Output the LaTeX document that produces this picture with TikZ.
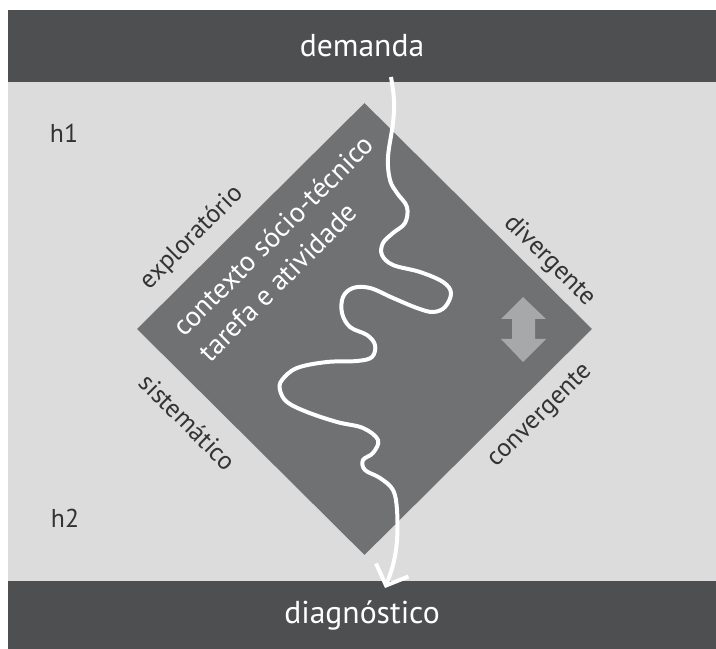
\documentclass[tikz,border=0pt]{standalone}
\usepackage{fontspec}
\setmainfont{PT Sans}
\usepackage{tikz}
\usetikzlibrary{shapes.geometric,arrows.meta,positioning}
\definecolor{bardark}{RGB}{78,79,81}
\definecolor{bglight}{RGB}{220,220,220}
\definecolor{ctxgrey}{RGB}{112,113,115}
\definecolor{arrowgrey}{RGB}{167,168,170}
\definecolor{labeltext}{RGB}{51,51,51}

\begin{document}
\begin{tikzpicture}[
    x=0.03cm, y=-0.03cm,
    bar/.style={fill=bardark, text=white, inner sep=0, minimum width=21.24cm, font=\fontsize{27}{32}\selectfont},
    side/.style={text=labeltext, inner sep=0, font=\fontsize{22}{26}\selectfont},
    inner/.style={text=white, align=left, inner sep=0, rotate=45, font=\fontsize{24}{31}\selectfont},
    wave/.style={draw=white, line width=3.4pt, -{Straight Barb[length=0.5cm, width=1.05cm]}}
]
    \useasboundingbox (0,0) rectangle (716,649);

    % Background
    \fill[bglight] (8,10) rectangle (716,649);

    % Start and end bars
    \node[bar, minimum height=2.16cm] (demanda) at (362,46) {demanda};
    \node[bar, minimum height=2.04cm] (diagnostico) at (362,615) {diagnóstico};

    % Context diamond
    \node[diamond, fill=ctxgrey, inner sep=0, minimum width=13.65cm, minimum height=13.56cm] (ctx) at (364.5,329) {};
    \node[inner] (ctxtext) at (286,248) {contexto sócio-técnico\\tarefa e atividade};

    % Levels
    \node[side] (h1) at (64,133) {h1};
    \node[side] (h2) at (65,518) {h2};

    % Edge labels
    \node[side, rotate=45] (explor) at (192,238) {exploratório};
    \node[side, rotate=-45] (diverg) at (550,261) {divergente};
    \node[side, rotate=-45] (sistem) at (188,422) {sistemático};
    \node[side, rotate=45] (converg) at (541,416) {convergente};

    % Up/down arrow
    \fill[arrowgrey] (523,297) -- (546,319) -- (535,319) -- (535,339) -- (546,339) -- (523,362)
        -- (501,339) -- (512,339) -- (512,319) -- (501,319) -- cycle;

    % Path from demanda to diagnostico
    \coordinate (wtop) at (391,77);
    \coordinate (wend) at (385,588);
    \draw[wave] plot[smooth, tension=0.6] coordinates {
        (wtop) (394,100) (393,123) (388,157) (390,180) (397,193) (407,207) (405,223)
        (393,233) (383,243) (382,255) (393,265) (420,272) (443,282) (451,293) (445,307)
        (433,312) (417,308) (393,298) (370,288) (353,288) (343,297) (342,313) (350,327)
        (367,335) (375,345) (372,357) (357,361) (327,362) (297,368) (282,380) (280,390)
        (287,402) (307,412) (337,422) (363,428) (378,440) (373,453) (363,460) (365,470)
        (380,478) (393,490) (397,510) (397,540) (393,565) (wend)};
\end{tikzpicture}
\end{document}
